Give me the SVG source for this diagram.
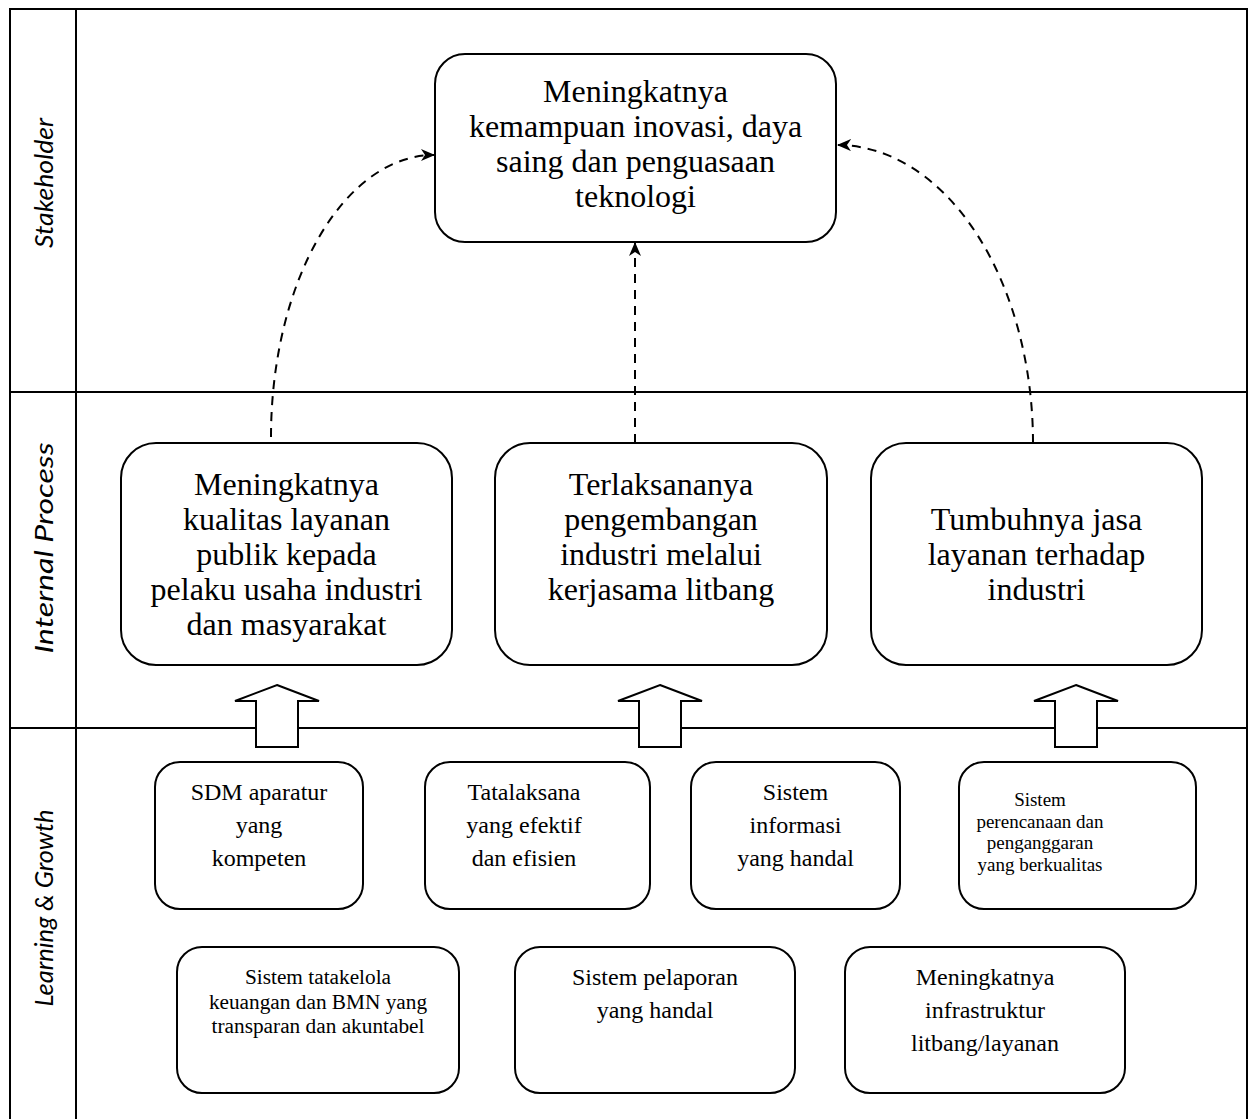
<svg xmlns="http://www.w3.org/2000/svg" width="1248" height="1119" viewBox="0 0 1248 1119">
<defs>
<marker id="ah" viewBox="0 0 14 12" refX="13" refY="6" markerWidth="14" markerHeight="12" markerUnits="userSpaceOnUse" orient="auto">
<path d="M0,0 L14,6 L0,12 L4,6 z" fill="#000"/>
</marker>
<style>
.frame{stroke:#000;stroke-width:2;fill:none}
.box{fill:#fff;stroke:#000;stroke-width:2}
.lane{font-family:Lato,"Open Sans",sans-serif;font-style:italic;font-size:26px;fill:#000}
.t32{font-family:"Liberation Serif","Times New Roman",serif;font-size:32px;fill:#000;text-anchor:middle}
.t24{font-family:"Liberation Serif","Times New Roman",serif;font-size:24px;fill:#000;text-anchor:middle}
.t21{font-family:"Liberation Serif","Times New Roman",serif;font-size:21.3px;fill:#000;text-anchor:middle}
.t19{font-family:"Liberation Serif","Times New Roman",serif;font-size:19px;fill:#000;text-anchor:middle}
.dash{stroke:#000;stroke-width:2;fill:none;stroke-dasharray:9 7;marker-end:url(#ah)}
.blk{fill:#fff;stroke:#000;stroke-width:2;stroke-linejoin:miter}
</style>
</defs>
<rect width="1248" height="1119" fill="#fff"/>
<g id="lanes">
<path class="frame" d="M10,1119 V9 H1247 V1119 M76,9 V1119 M10,392 H1247 M10,728 H1247"/>
<text class="lane" transform="translate(53,183) rotate(-90)" text-anchor="middle" textLength="130" lengthAdjust="spacingAndGlyphs">Stakeholder</text>
<text class="lane" transform="translate(53,548) rotate(-90)" text-anchor="middle" textLength="211" lengthAdjust="spacingAndGlyphs">Internal Process</text>
<text class="lane" transform="translate(53,908) rotate(-90)" text-anchor="middle" textLength="197" lengthAdjust="spacingAndGlyphs">Learning &amp; Growth</text>
</g>
<g id="connectors">
<path class="dash" d="M271,437 A163,282 0 0 1 434,155"/>
<path class="dash" d="M635,443 V243"/>
<path class="dash" d="M1033,443 A196,298 0 0 0 838,145"/>
<polygon class="blk" points="277,685 319,701 298,701 298,747 256,747 256,701 235,701"/>
<polygon class="blk" points="660,685 702,701 681,701 681,747 639,747 639,701 618,701"/>
<polygon class="blk" points="1076,685 1118,701 1097,701 1097,747 1055,747 1055,701 1034,701"/>
</g>
<g id="goal">
<rect class="box" x="435" y="54" width="401" height="188" rx="30"/>
<text class="t32" x="635.5" y="102">Meningkatnya</text>
<text class="t32" x="635.5" y="137">kemampuan inovasi, daya</text>
<text class="t32" x="635.5" y="172">saing dan penguasaan</text>
<text class="t32" x="635.5" y="207">teknologi</text>
</g>
<g id="ip1">
<rect class="box" x="121" y="443" width="331" height="222" rx="35"/>
<text class="t32" x="286.5" y="495">Meningkatnya</text>
<text class="t32" x="286.5" y="530">kualitas layanan</text>
<text class="t32" x="286.5" y="565">publik kepada</text>
<text class="t32" x="286.5" y="600">pelaku usaha industri</text>
<text class="t32" x="286.5" y="635">dan masyarakat</text>
</g>
<g id="ip2">
<rect class="box" x="495" y="443" width="332" height="222" rx="35"/>
<text class="t32" x="661" y="495">Terlaksananya</text>
<text class="t32" x="661" y="530">pengembangan</text>
<text class="t32" x="661" y="565">industri melalui</text>
<text class="t32" x="661" y="600">kerjasama litbang</text>
</g>
<g id="ip3">
<rect class="box" x="871" y="443" width="331" height="222" rx="35"/>
<text class="t32" x="1036.5" y="530">Tumbuhnya jasa</text>
<text class="t32" x="1036.5" y="565">layanan terhadap</text>
<text class="t32" x="1036.5" y="600">industri</text>
</g>
<g id="lg1">
<rect class="box" x="155" y="762" width="208" height="147" rx="25"/>
<text class="t24" x="259" y="800">SDM aparatur</text>
<text class="t24" x="259" y="833">yang</text>
<text class="t24" x="259" y="866">kompeten</text>
</g>
<g id="lg2">
<rect class="box" x="425" y="762" width="225" height="147" rx="25"/>
<text class="t24" x="524" y="800">Tatalaksana</text>
<text class="t24" x="524" y="833">yang efektif</text>
<text class="t24" x="524" y="866">dan efisien</text>
</g>
<g id="lg3">
<rect class="box" x="691" y="762" width="209" height="147" rx="25"/>
<text class="t24" x="795.5" y="800">Sistem</text>
<text class="t24" x="795.5" y="833">informasi</text>
<text class="t24" x="795.5" y="866">yang handal</text>
</g>
<g id="lg4">
<rect class="box" x="959" y="762" width="237" height="147" rx="25"/>
<text class="t19" x="1040" y="806">Sistem</text>
<text class="t19" x="1040" y="827.5">perencanaan dan</text>
<text class="t19" x="1040" y="849">penganggaran</text>
<text class="t19" x="1040" y="870.5">yang berkualitas</text>
</g>
<g id="lg5">
<rect class="box" x="177" y="947" width="282" height="146" rx="25"/>
<text class="t21" x="318" y="984">Sistem tatakelola</text>
<text class="t21" x="318" y="1008.5">keuangan dan BMN yang</text>
<text class="t21" x="318" y="1033">transparan dan akuntabel</text>
</g>
<g id="lg6">
<rect class="box" x="515" y="947" width="280" height="146" rx="25"/>
<text class="t24" x="655" y="985">Sistem pelaporan</text>
<text class="t24" x="655" y="1018">yang handal</text>
</g>
<g id="lg7">
<rect class="box" x="845" y="947" width="280" height="146" rx="25"/>
<text class="t24" x="985" y="985">Meningkatnya</text>
<text class="t24" x="985" y="1018">infrastruktur</text>
<text class="t24" x="985" y="1051">litbang/layanan</text>
</g>
</svg>
